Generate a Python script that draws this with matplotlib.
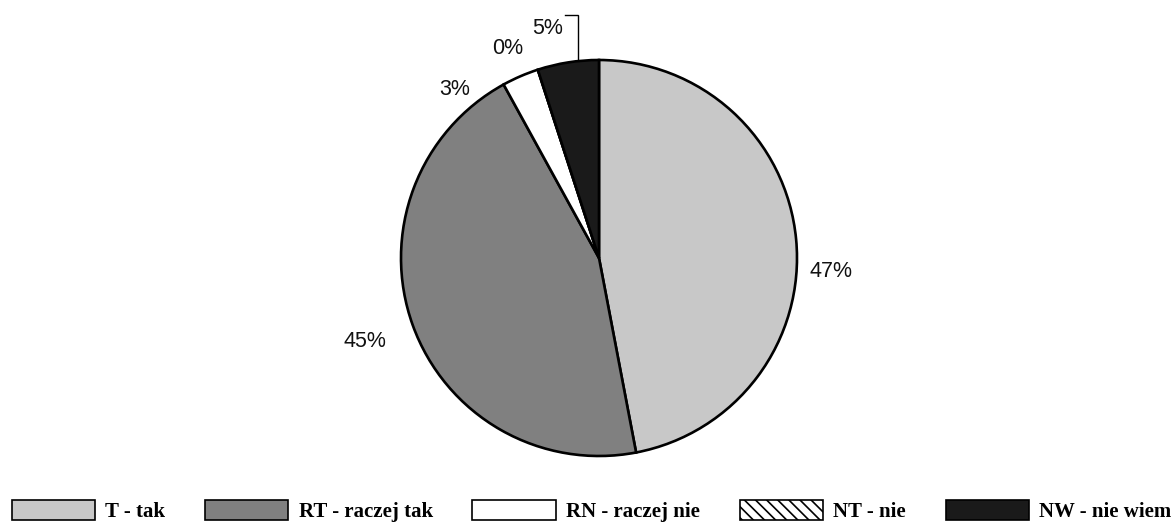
import matplotlib
matplotlib.use("Agg")
import matplotlib.pyplot as plt
from matplotlib.patches import Patch

# survey answers, percent
categories = ["T - tak", "RT - raczej tak", "RN - raczej nie", "NT - nie", "NW - nie wiem"]
values = [47, 45, 3, 0, 5]
colors = ["#c8c8c8", "#808080", "#ffffff", "#ffffff", "#1a1a1a"]
hatches = [None, None, None, "\\\\\\", None]

# label placement around the pie (radius = 1)
label_pos = [(1.17, -0.07), (-1.18, -0.42), (-0.73, 0.85), (-0.46, 1.06), (-0.26, 1.16)]

plt.rcParams["hatch.linewidth"] = 1.2

fig = plt.figure(figsize=(11.76, 5.25), dpi=100)
lim = 250 / 198
ax = fig.add_axes([(599 - 250) / 1176, (267 - 250) / 525, 500 / 1176, 500 / 525])

wedges, _ = ax.pie(values, colors=colors, startangle=90, counterclock=False,
                   radius=1.0,
                   wedgeprops=dict(edgecolor="black", linewidth=1.9))
for w, h in zip(wedges, hatches):
    if h:
        w.set_hatch(h)

for v, (x, y) in zip(values, label_pos):
    ax.text(x, y, "%d%%" % v, ha="center", va="center",
            fontsize=15.5, family="Liberation Sans", color="#111111")

# leader line for the 5% label
ax.plot([-0.17, -0.106, -0.106], [1.227, 1.227, 1.0], color="black", lw=1.0,
        solid_joinstyle="miter")

ax.set_xlim(-lim, lim)
ax.set_ylim(-lim, lim)
ax.axis("off")

handles = [Patch(facecolor=c, edgecolor="black", hatch=h, linewidth=1.2)
           for c, h in zip(colors, hatches)]
fig.legend(handles, categories, loc="lower center", bbox_to_anchor=(0.503, -0.03),
           ncol=5, frameon=False, handlelength=4.0, handleheight=1.1,
           handletextpad=0.5, columnspacing=1.9,
           prop={"family": "Liberation Serif", "weight": "bold", "size": 15})

fig.savefig("out.png", dpi=100)
